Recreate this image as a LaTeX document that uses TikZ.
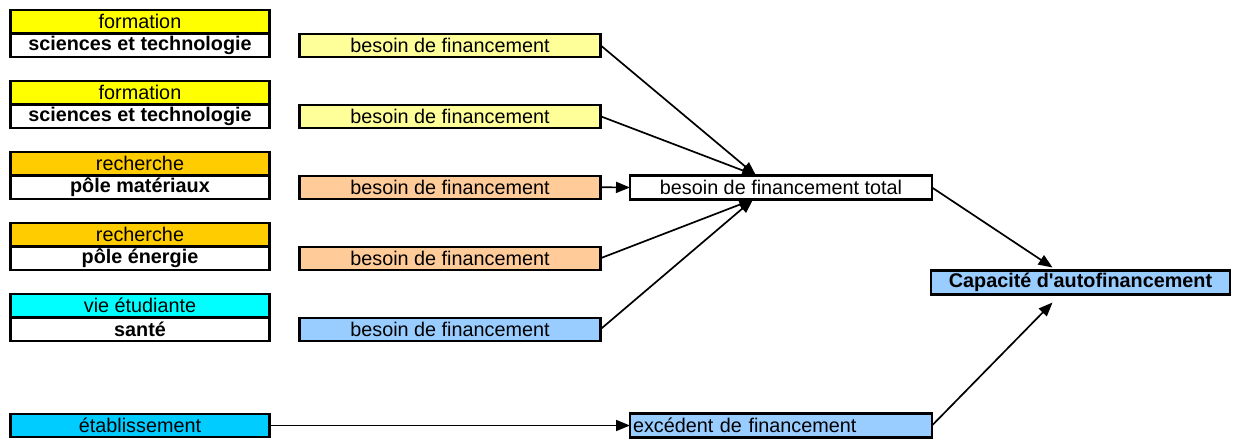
\documentclass[tikz,border=0pt]{standalone}
\usepackage{fontspec}
\setmainfont{Liberation Sans}
\usetikzlibrary{arrows.meta,positioning,calc}
\definecolor{HdrYellow}{HTML}{FFFF00}
\definecolor{HdrOrange}{HTML}{FFCC00}
\definecolor{HdrCyan}{HTML}{00FFFF}
\definecolor{HdrBlue}{HTML}{00CCFF}
\definecolor{NeedYellow}{HTML}{FFFF99}
\definecolor{NeedPeach}{HTML}{FFCC99}
\definecolor{NeedBlue}{HTML}{99CCFF}

\begin{document}
\begin{tikzpicture}[
  x=1pt, y=-1pt,
  every node/.style={font=\fontsize{19.8}{22}\selectfont},
  cellbox/.style={
    rectangle, draw=black, line width=2.3pt, inner sep=0pt, outer sep=0pt,
    minimum width=259pt, minimum height=23.5pt, align=center
  },
  hdrbox/.style={cellbox, fill=#1},
  unitbox/.style={cellbox, fill=white, font=\fontsize{19.8}{22}\selectfont\bfseries},
  needbox/.style={cellbox, fill=#1, minimum width=301pt, minimum height=23pt},
  totbox/.style={cellbox, fill=white, minimum width=302pt, minimum height=24pt},
  capbox/.style={cellbox, fill=NeedBlue, minimum width=299pt, minimum height=24pt,
    font=\fontsize{19.8}{22}\selectfont\bfseries},
  arr/.style={-{Triangle[length=14pt,width=11pt]}, line width=1.7pt, black}
]
\useasboundingbox (0,0) rectangle (1233,439);

% --- left column: activities
\node[hdrbox=HdrYellow] (h1) at (140,21.75)  {formation};
\node[unitbox, below=0pt of h1] (u1) {sciences et technologie};
\node[hdrbox=HdrYellow] (h2) at (140,92.75)  {formation};
\node[unitbox, below=0pt of h2] (u2) {sciences et technologie};
\node[hdrbox=HdrOrange] (h3) at (140,163.75) {recherche};
\node[unitbox, below=0pt of h3] (u3) {pôle matériaux};
\node[hdrbox=HdrOrange] (h4) at (140,234.75) {recherche};
\node[unitbox, below=0pt of h4] (u4) {pôle énergie};
\node[hdrbox=HdrCyan]   (h5) at (140,305.75) {vie étudiante};
\node[unitbox, below=0pt of h5] (u5) {santé};
\node[hdrbox=HdrBlue]   (etab) at (140,425.5) {établissement};

% --- financing needs
\node[needbox=NeedYellow, right=30pt of u1] (n1) {besoin de financement};
\node[needbox=NeedYellow, right=30pt of u2] (n2) {besoin de financement};
\node[needbox=NeedPeach,  right=30pt of u3] (n3) {besoin de financement};
\node[needbox=NeedPeach,  right=30pt of u4] (n4) {besoin de financement};
\node[needbox=NeedBlue,   right=30pt of u5] (n5) {besoin de financement};

% --- totals
\node[totbox] (tot) at (781,187.5) {besoin de financement total};
\node[totbox, fill=NeedBlue, align=left, text width=296pt, inner xsep=3pt] (exc) at (781,425.5) {excédent de financement};
\node[capbox] (cap) at (1080.5,282.5) {Capacité d\textquotesingle autofinancement};

\coordinate (topin) at ($(tot.north)+(-25,0)$);
\coordinate (botin) at ($(tot.south)+(-28,0)$);

% --- arrows: needs -> total
\draw[arr] (n1.east) -- (topin);
\draw[arr] (n2.east) -- (topin);
\draw[arr] (n3.east) -- (tot.west);
\draw[arr] (n4.east) -- (botin);
\draw[arr] (n5.east) -- (botin);

% --- arrows: to capacity
\draw[arr] (etab.east) -- (exc.west);
\draw[arr] (tot.east) -- ($(cap.north)+(-28,-3)$);
\draw[arr] (exc.east) -- ($(cap.south)+(-28,8)$);

\end{tikzpicture}
\end{document}
